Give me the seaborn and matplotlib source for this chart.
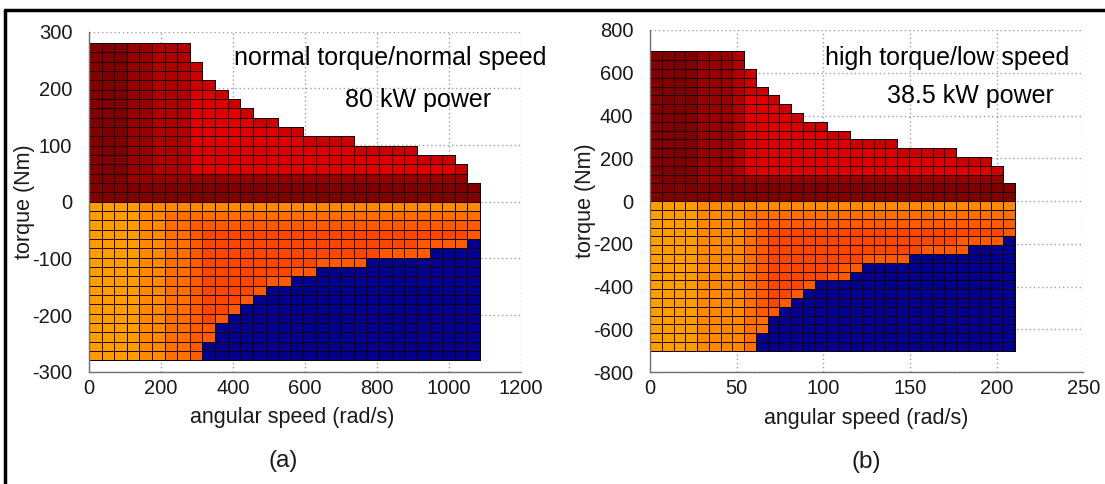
import numpy as np
import pandas as pd
import matplotlib
matplotlib.use("Agg")
import matplotlib.pyplot as plt
from matplotlib.colors import ListedColormap, to_rgba
from matplotlib.lines import Line2D
import seaborn as sns

# ---------------- data ----------------
# grid extent of each operating map (speed rad/s, torque Nm)
speed_max_a = 1086.0
torque_max_a = 280.0
speed_max_b = 210.6
torque_max_b = 700.0
n_cols = 31
n_rows = 34

# colour level of each cell, rows listed from top (max torque) to bottom
# '.' = outside map, 'b' = blue, '0'..'9' = orange -> dark red
grid_a = [
    "99988777.......................",
    "99988777.......................",
    "999887776......................",
    "999887776......................",
    "9998877766.....................",
    "99988777556....................",
    "999887775556...................",
    "9998877755556..................",
    "999887775555566................",
    "99988777555555566..............",
    "999887775555555556666..........",
    "99988777555555555555566666.....",
    "99988777555555555555555555666..",
    "999887775555555555555555555556.",
    "999888888888888888888888888888.",
    "9999999999999999999999999999999",
    "9999999999999999999999999999999",
    "0000111111111111111111111111111",
    "0000112222222222222222222222222",
    "0000112233333333333333333333333",
    "0000112234444444444444444444443",
    "000011223444444444444444443333b",
    "000011223444444444444443333bbbb",
    "0000112234444444443333bbbbbbbbb",
    "000011223444444433bbbbbbbbbbbbb",
    "0000112234444433bbbbbbbbbbbbbbb",
    "00001122344443bbbbbbbbbbbbbbbbb",
    "0000112234443bbbbbbbbbbbbbbbbbb",
    "000011223443bbbbbbbbbbbbbbbbbbb",
    "00001122343bbbbbbbbbbbbbbbbbbbb",
    "0000112233bbbbbbbbbbbbbbbbbbbbb",
    "0000112233bbbbbbbbbbbbbbbbbbbbb",
    "000011223bbbbbbbbbbbbbbbbbbbbbb",
    "000011223bbbbbbbbbbbbbbbbbbbbbb",
]

grid_b = [
    "99998887.......................",
    "99998887.......................",
    "999988876......................",
    "999988876......................",
    "9999888766.....................",
    "99998887556....................",
    "999988875556...................",
    "9999888755556..................",
    "999988875555566................",
    "99998887555555566..............",
    "999988875555555556666..........",
    "99998887555555555555566666.....",
    "99998887555555555555555555666..",
    "999988875555555555555555555556.",
    "999988888888888888888888888888.",
    "9999999999999999999999999999999",
    "9999999999999999999999999999999",
    "0000111111111111111111111111111",
    "0000111122222222222222222222222",
    "0000111123333333333333333333333",
    "0000111123444444444444444444443",
    "000011112344444444444444443333b",
    "000011112344444444444443333bbbb",
    "0000111123444444443333bbbbbbbbb",
    "000011112344444433bbbbbbbbbbbbb",
    "00001111234444433bbbbbbbbbbbbbb",
    "00001111234443bbbbbbbbbbbbbbbbb",
    "0000111123443bbbbbbbbbbbbbbbbbb",
    "000011112343bbbbbbbbbbbbbbbbbbb",
    "00001111233bbbbbbbbbbbbbbbbbbbb",
    "0000111122bbbbbbbbbbbbbbbbbbbbb",
    "0000111122bbbbbbbbbbbbbbbbbbbbb",
    "000011112bbbbbbbbbbbbbbbbbbbbbb",
    "000011112bbbbbbbbbbbbbbbbbbbbbb",
]

level_codes = ["b", "0", "1", "2", "3", "4", "5", "6", "7", "8", "9"]
level_colors = ["#00008f", "#ff9c00", "#ff8a00", "#ff7000", "#ff5a00", "#ff4600",
                "#e00000", "#cc0000", "#b00000", "#980000", "#800000"]

x_ticks_a = [0, 200, 400, 600, 800, 1000, 1200]
y_ticks_a = [-300, -200, -100, 0, 100, 200, 300]
x_ticks_b = [0, 50, 100, 150, 200, 250]
y_ticks_b = [-800, -600, -400, -200, 0, 200, 400, 600, 800]

titles_a = ["normal torque/normal speed", "80 kW power"]
titles_b = ["high torque/low speed", "38.5 kW power"]


def grid_frame(grid, speed_max, torque_max):
    grid = [row[:n_cols].ljust(n_cols, ".") for row in grid]
    col_w = speed_max / n_cols
    row_h = 2 * torque_max / n_rows
    recs = []
    for i, row in enumerate(grid):
        for j, ch in enumerate(row):
            if ch == ".":
                continue
            recs.append({
                "speed": (j + 0.5) * col_w,
                "torque": torque_max - (i + 0.5) * row_h,
                "level": level_codes.index(ch) + 1,
            })
    xe = np.linspace(0, speed_max, n_cols + 1)
    ye = np.linspace(-torque_max, torque_max, n_rows + 1)
    return pd.DataFrame(recs), xe, ye


# ---------------- style ----------------
sns.set_style("white")
plt.rcParams["font.family"] = ["Liberation Sans", "DejaVu Sans"]
plt.rcParams["axes.unicode_minus"] = False
TXT = "#1a1a1a"

fig = plt.figure(figsize=(11.05, 4.84), dpi=100)
cmap = ListedColormap(level_colors)

panels = [
    (grid_a, speed_max_a, torque_max_a, x_ticks_a, y_ticks_a, titles_a,
     [0.0805, 0.232, 0.391, 0.7025], (403, 253), (711, 180), "(a)", 0.47, 0.45),
    (grid_b, speed_max_b, torque_max_b, x_ticks_b, y_ticks_b, titles_b,
     [0.5882, 0.2308, 0.3921, 0.7074], (101, 669), (137, 491), "(b)", 0.5, 0.5),
]

for grid, smax, tmax, xt, yt, titles, pos, p1, p2, tag, xlab_x, tag_x in panels:
    ax = fig.add_axes(pos)
    ax.set_axisbelow(True)
    df, xe, ye = grid_frame(grid, smax, tmax)
    sns.histplot(data=df, x="speed", y="torque", weights="level",
                 bins=(xe, ye), cmap=cmap, vmin=0.5, vmax=len(level_colors) + 0.5,
                 edgecolor="#1a0000", linewidth=0.7, ax=ax)
    # hide the outlines of the empty (masked) cells
    mesh = ax.collections[-1]
    mask = np.ma.getmaskarray(mesh.get_array()).ravel()
    ec = np.tile(to_rgba("#1a0000"), (mask.size, 1))
    ec[mask, 3] = 0.0
    mesh.set_edgecolor(ec)

    ax.set_xlim(xt[0], xt[-1])
    ax.set_ylim(yt[0], yt[-1])
    ax.set_xticks(xt)
    ax.set_yticks(yt)
    ax.grid(True, color="#a0a0a0", linestyle=(0, (1, 2)), linewidth=1.0)
    ax.tick_params(direction="in", length=4, width=0.8, color="#606060",
                   labelsize=14.5, labelcolor=TXT)
    ax.tick_params(axis="y", pad=12)
    ax.tick_params(axis="x", pad=5)
    for s in ["left", "bottom"]:
        ax.spines[s].set_color("#707070")
        ax.spines[s].set_linewidth(1.0)
    for s in ["top", "right"]:
        ax.spines[s].set_visible(False)
    ax.set_xlabel("angular speed (rad/s)", fontsize=15.5, color=TXT)
    ax.xaxis.set_label_coords(xlab_x, -0.104)
    ax.set_ylabel("torque (Nm)", fontsize=15.5, color=TXT)
    ax.yaxis.set_label_coords(-0.124, 0.5)
    ax.text(p1[0], p1[1], titles[0], fontsize=18, color="black", ha="left", va="center")
    ax.text(p2[0], p2[1], titles[1], fontsize=18, color="black", ha="left", va="center")
    ax.text(tag_x, -0.262, tag, transform=ax.transAxes, fontsize=17.5, color=TXT,
            ha="center", va="center")

# outer frame of the figure panel
fig.add_artist(Line2D([5 / 1105, 1.0], [1 - 10 / 484, 1 - 10 / 484],
                      transform=fig.transFigure, color="black", linewidth=2.5))
fig.add_artist(Line2D([5 / 1105, 5 / 1105], [0, 1 - 10 / 484],
                      transform=fig.transFigure, color="black", linewidth=2.5))

fig.savefig("out.png", dpi=100)
